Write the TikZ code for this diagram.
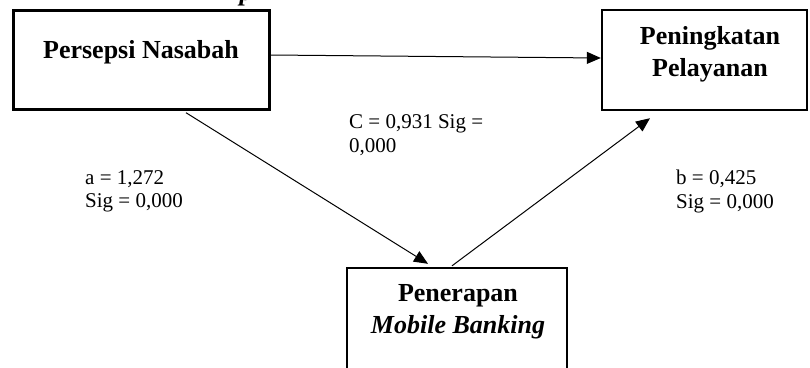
\documentclass[tikz,border=0pt]{standalone}
\usepackage{fontspec}
\setmainfont{Liberation Serif}
\usetikzlibrary{arrows.meta}
\begin{document}
\begin{tikzpicture}[x=1pt,y=-1pt,
  varbox/.style={draw=black,line width=2.4pt,rectangle,inner sep=0pt},
  boxtext/.style={font=\fontsize{26}{32}\selectfont\bfseries,align=center,inner sep=0pt},
  coef/.style={font=\fontsize{21}{23.5}\selectfont,align=left,inner sep=0pt,anchor=west},
  arr/.style={line width=1pt,-{Triangle[length=14pt,width=12pt]}}]
\useasboundingbox (0,0) rectangle (810,367);
% fragment of a title above the picture
\node[font=\fontsize{26}{30}\selectfont\bfseries\itshape,anchor=base,inner sep=0pt] (title) at (246,0) {p};
% boxes
\node[varbox,minimum width=256pt,minimum height=99pt] (A) at (141.5,60) {};
\node[boxtext] (Atext) at (141,52) {Persepsi Nasabah};
\node[varbox,minimum width=205pt,minimum height=100pt] (B) at (704.5,60) {};
\node[boxtext] (Btext) at (710,54) {Peningkatan\\Pelayanan};
\node[varbox,minimum width=220pt,minimum height=160pt] (C) at (457,348) {};
\node[boxtext] (Ctext) at (458,312) {Penerapan\\\textit{Mobile Banking}};
% connectors
\draw[arr] ([yshift=5pt]A.east) -- ([yshift=2pt]B.west);
\draw[arr] ([xshift=44.5pt,yshift=-2pt]A.south) -- ([xshift=-29pt,yshift=3pt]C.north);
\draw[arr] ([xshift=-5pt,yshift=1pt]C.north) -- ([xshift=-54.5pt,yshift=-7pt]B.south);
% coefficients
\node[coef] (la) at (85,191.5) {a = 1,272\\Sig = 0,000};
\node[coef] (lc) at (349,135) {C = 0,931 Sig =\\0,000};
\node[coef] (lb) at (676,191.5) {b = 0,425\\Sig = 0,000};
\end{tikzpicture}
\end{document}
